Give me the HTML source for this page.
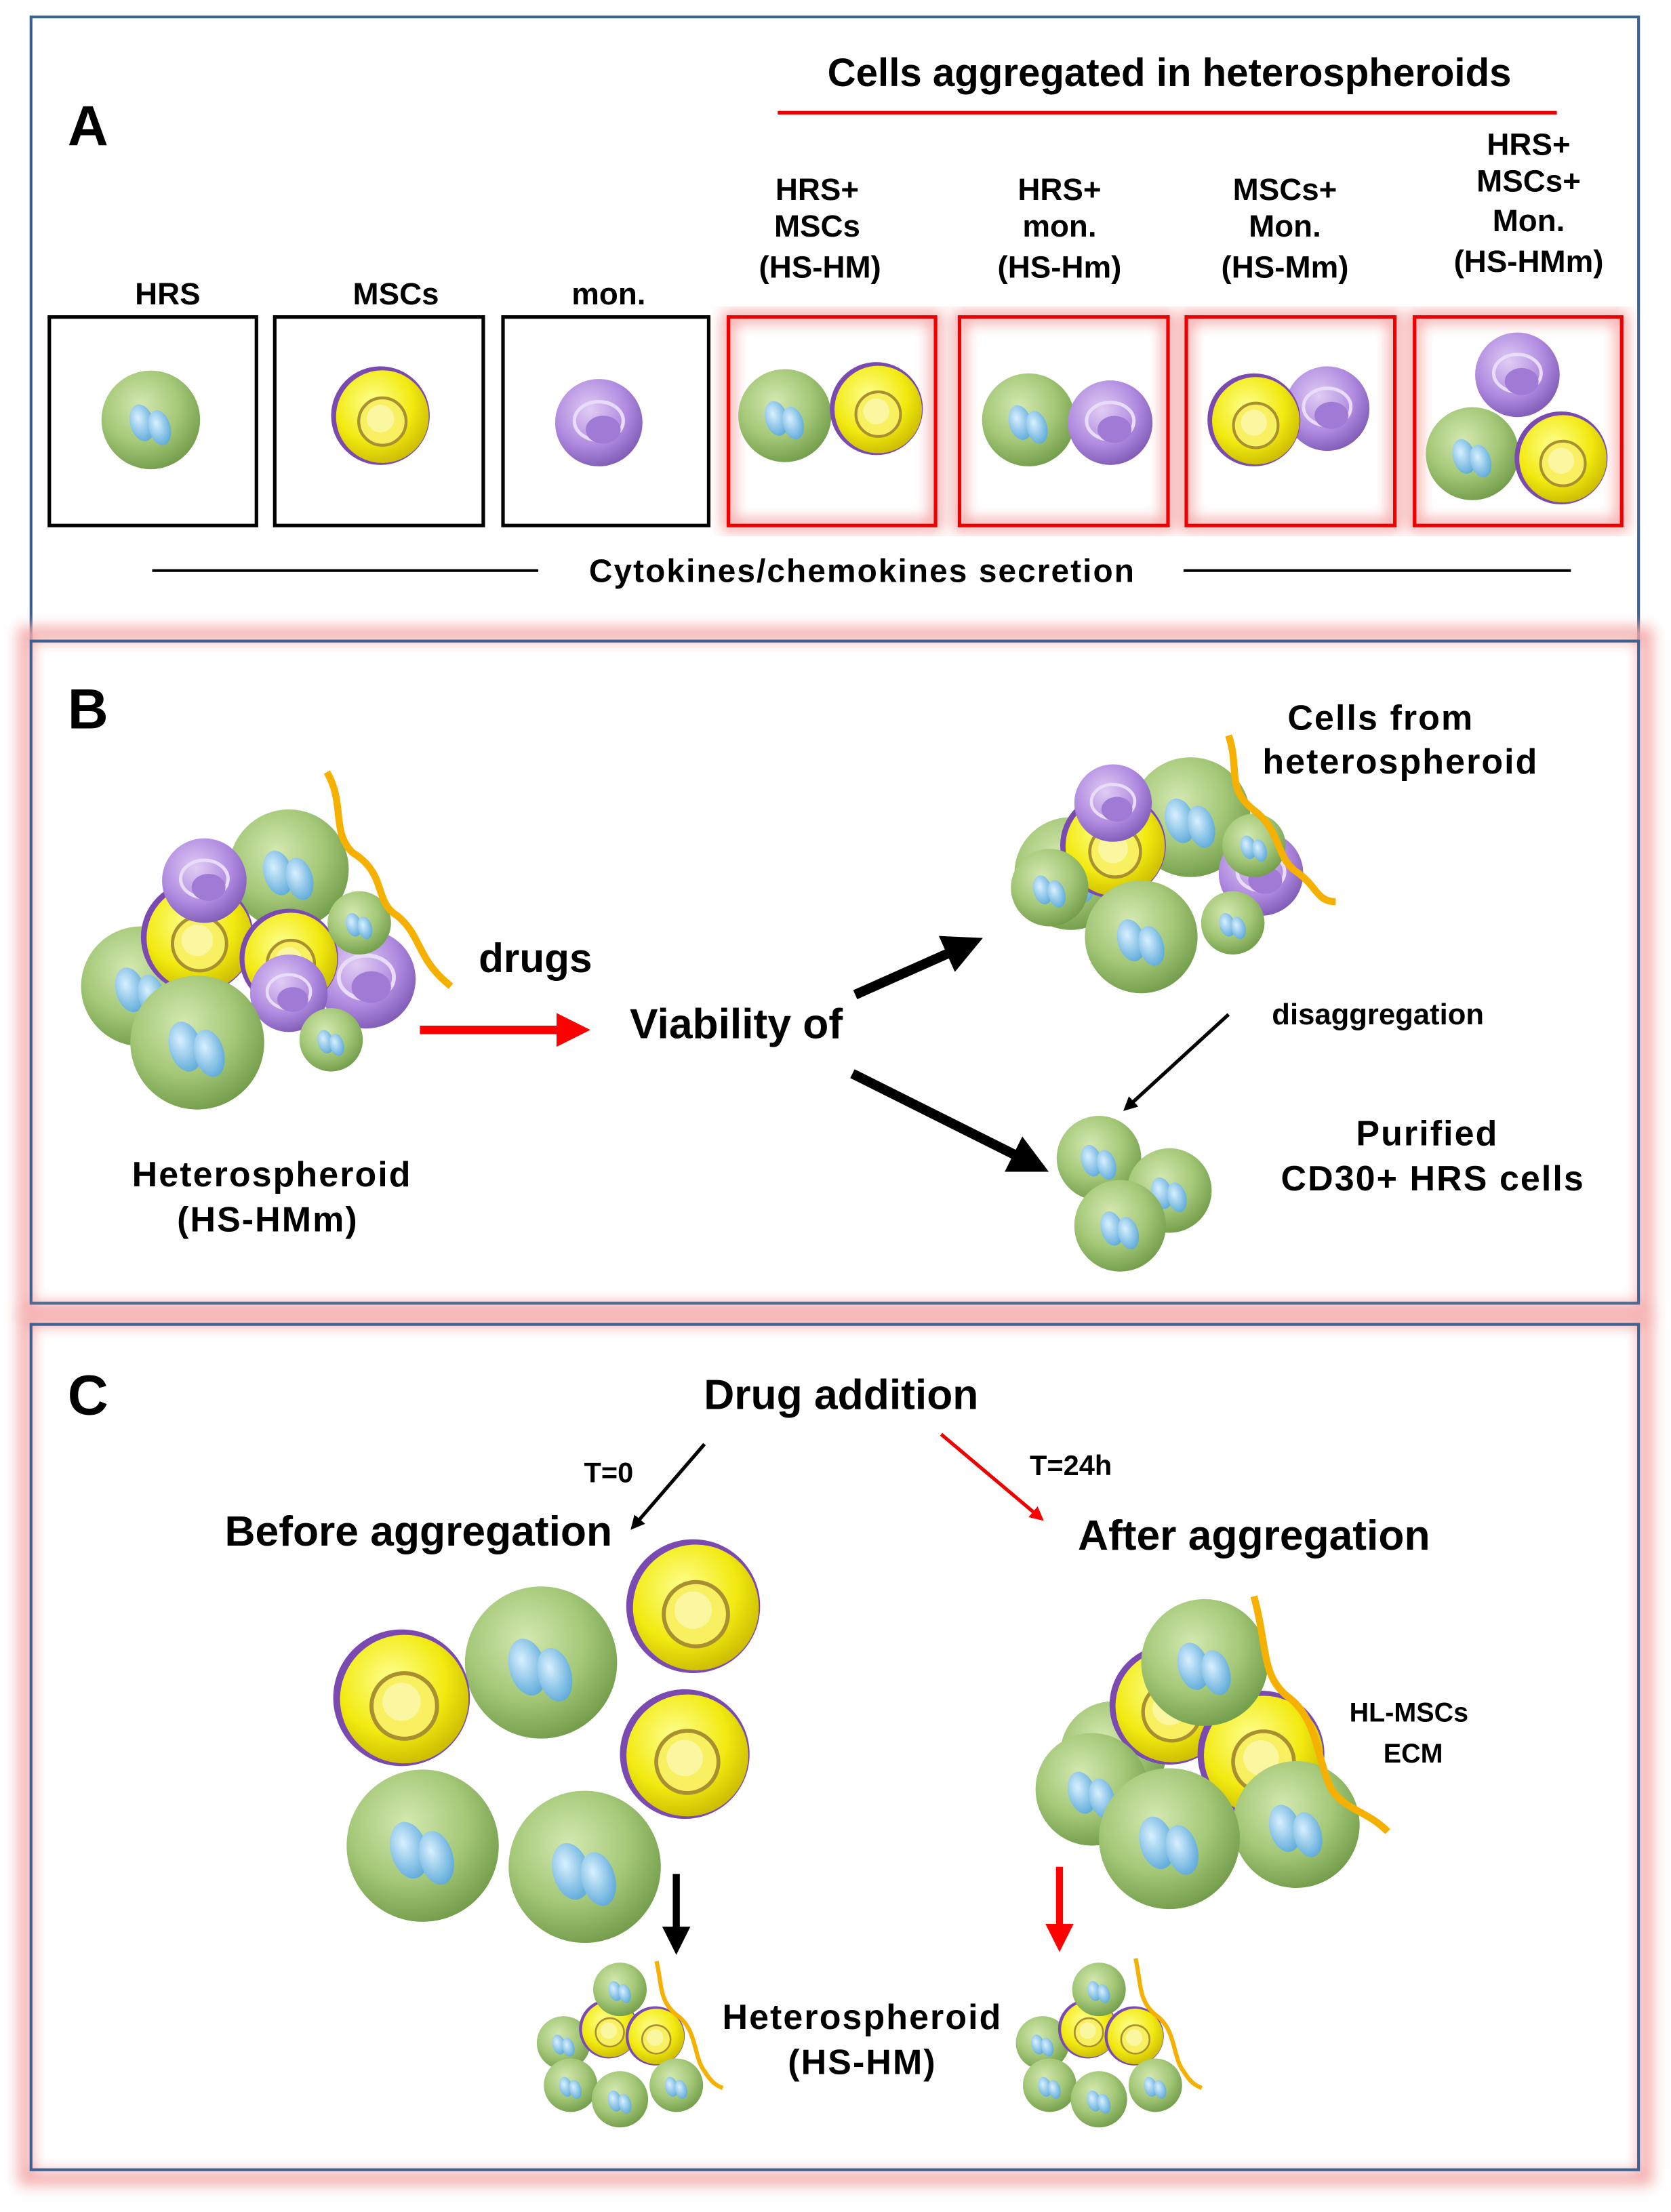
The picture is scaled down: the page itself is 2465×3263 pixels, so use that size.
<!DOCTYPE html>
<html><head><meta charset="utf-8"><style>
html,body{margin:0;padding:0;background:#fff}
svg{display:block}
text{font-family:"Liberation Sans",sans-serif;fill:#000}
</style></head><body>
<svg width="2465" height="3263" viewBox="0 0 1186 1570" xmlns="http://www.w3.org/2000/svg">
<defs>
<radialGradient id="gG" cx="40%" cy="35%" r="70%"><stop offset="0" stop-color="#d4e8b0"/><stop offset="0.55" stop-color="#a4c878"/><stop offset="1" stop-color="#6f9a48"/></radialGradient>
<radialGradient id="gY" cx="40%" cy="35%" r="70%"><stop offset="0" stop-color="#ffff90"/><stop offset="0.6" stop-color="#f2ea10"/><stop offset="1" stop-color="#c8b800"/></radialGradient>
<radialGradient id="gP" cx="40%" cy="35%" r="70%"><stop offset="0" stop-color="#e0ccf4"/><stop offset="0.6" stop-color="#b08ae0"/><stop offset="1" stop-color="#7c58b4"/></radialGradient>
<radialGradient id="gN" cx="40%" cy="35%" r="70%"><stop offset="0" stop-color="#d8f0ff"/><stop offset="1" stop-color="#5aa8d8"/></radialGradient>
<g id="cG"><circle r="50" fill="url(#gG)"/><ellipse cx="-9" cy="3" rx="12" ry="19" fill="url(#gN)" transform="rotate(-15 -9 3)"/><ellipse cx="9" cy="8" rx="11" ry="18" fill="url(#gN)" transform="rotate(-15 9 8)"/></g>
<g id="cY"><circle r="50" fill="#7a4ab0"/><circle cx="2" cy="1" r="47" fill="url(#gY)"/><circle cx="2" cy="6" r="24" fill="#f8f060" stroke="#a89030" stroke-width="3"/><circle cx="0" cy="3" r="14" fill="#fbf7a0"/></g>
<g id="cP"><circle r="50" fill="url(#gP)"/><ellipse cx="0" cy="-2" rx="28" ry="22" fill="none" stroke="#e8dcf8" stroke-width="4"/><ellipse cx="5" cy="8" rx="20" ry="16" fill="#a07ad4"/></g>
<filter id="glow" x="-5%" y="-5%" width="110%" height="110%"><feGaussianBlur stdDeviation="5"/></filter>
<marker id="ak" markerWidth="4" markerHeight="4" refX="2.5" refY="2" orient="auto"><path d="M0,0 L4,2 L0,4 z" fill="#000"/></marker>
<marker id="ar" markerWidth="4" markerHeight="4" refX="2.5" refY="2" orient="auto"><path d="M0,0 L4,2 L0,4 z" fill="#f00"/></marker>
</defs>

<!-- Panel frames -->
<rect x="22" y="12" width="1141" height="443" fill="none" stroke="#3d6190" stroke-width="2"/>
<rect x="18" y="450" width="1150" height="480" fill="none" stroke="#f4aaaa" stroke-width="10" filter="url(#glow)"/>
<rect x="22" y="455" width="1141" height="470" fill="none" stroke="#3d6190" stroke-width="2"/>
<rect x="18" y="936" width="1150" height="610" fill="none" stroke="#f4aaaa" stroke-width="10" filter="url(#glow)"/>
<rect x="22" y="940" width="1141" height="600" fill="none" stroke="#3d6190" stroke-width="2"/>

<!-- Panel A -->
<text x="48" y="103" font-size="40" font-weight="bold">A</text>
<text x="830" y="61" font-size="28" font-weight="bold" text-anchor="middle">Cells aggregated in heterospheroids</text>
<line x1="552" y1="80" x2="1105" y2="80" stroke="#e00" stroke-width="2.5"/>
<g font-size="22" text-anchor="middle" font-weight="bold">
<text x="119" y="216">HRS</text><text x="281" y="216">MSCs</text><text x="432" y="216">mon.</text>
<text x="580" y="142">HRS+</text><text x="580" y="168">MSCs</text><text x="582" y="197">(HS-HM)</text>
<text x="752" y="142">HRS+</text><text x="752" y="168">mon.</text><text x="752" y="197">(HS-Hm)</text>
<text x="912" y="142">MSCs+</text><text x="912" y="168">Mon.</text><text x="912" y="197">(HS-Mm)</text>
<text x="1085" y="110">HRS+</text><text x="1085" y="136">MSCs+</text><text x="1085" y="164">Mon.</text><text x="1085" y="193">(HS-HMm)</text>
</g>
<g fill="none" stroke="#000" stroke-width="2.5">
<rect x="35" y="225" width="147" height="148"/><rect x="195" y="225" width="148" height="148"/><rect x="357" y="225" width="146" height="148"/>
</g>
<g fill="none" stroke="#f4a0a0" stroke-width="8" filter="url(#glow)">
<rect x="517" y="225" width="147" height="148"/><rect x="681" y="225" width="148" height="148"/><rect x="842" y="225" width="148" height="148"/><rect x="1004" y="225" width="147" height="148"/>
</g>
<g fill="none" stroke="#e00" stroke-width="2.5">
<rect x="517" y="225" width="147" height="148"/><rect x="681" y="225" width="148" height="148"/><rect x="842" y="225" width="148" height="148"/><rect x="1004" y="225" width="147" height="148"/>
</g>
<use href="#cG" transform="translate(107,298) scale(0.7)"/>
<use href="#cY" transform="translate(270,295) scale(0.7)"/>
<use href="#cP" transform="translate(425,300) scale(0.62)"/>
<use href="#cG" transform="translate(557,295) scale(0.66)"/><use href="#cY" transform="translate(622,290) scale(0.66)"/>
<use href="#cG" transform="translate(730,298) scale(0.66)"/><use href="#cP" transform="translate(788,300) scale(0.6)"/>
<use href="#cP" transform="translate(942,290) scale(0.6)"/><use href="#cY" transform="translate(890,298) scale(0.66)"/>
<use href="#cP" transform="translate(1077,266) scale(0.6)"/><use href="#cG" transform="translate(1045,322) scale(0.66)"/><use href="#cY" transform="translate(1108,325) scale(0.66)"/>
<line x1="108" y1="405" x2="382" y2="405" stroke="#000" stroke-width="2"/>
<line x1="840" y1="405" x2="1115" y2="405" stroke="#000" stroke-width="2"/>
<text x="612" y="413" font-size="23" text-anchor="middle" font-weight="bold" letter-spacing="1">Cytokines/chemokines secretion</text>

<!-- Panel B -->
<text x="48" y="517" font-size="40" font-weight="bold">B</text>
<use href="#cG" transform="translate(205,617) scale(0.85)"/>
<use href="#cG" transform="translate(100,700) scale(0.85)"/>
<use href="#cY" transform="translate(140,665) scale(0.8)"/>
<use href="#cP" transform="translate(145,625) scale(0.6)"/>
<use href="#cP" transform="translate(260,695) scale(0.7)"/>
<use href="#cY" transform="translate(205,680) scale(0.7)"/>
<use href="#cP" transform="translate(205,705) scale(0.55)"/>
<use href="#cG" transform="translate(255,655) scale(0.45)"/>
<use href="#cG" transform="translate(140,740) scale(0.95)"/>
<use href="#cG" transform="translate(235,738) scale(0.45)"/>
<path d="M232,548 C245,570 235,590 250,605 C275,620 265,640 282,650 C300,665 295,680 320,700" fill="none" stroke="#f5b000" stroke-width="5"/>
<text x="380" y="690" font-size="29" font-weight="bold" text-anchor="middle">drugs</text>
<line x1="298" y1="731" x2="410" y2="731" stroke="#f00" stroke-width="6" marker-end="url(#ar)"/>
<text x="447" y="737" font-size="30" font-weight="bold">Viability of</text>
<line x1="607" y1="706" x2="688" y2="670" stroke="#000" stroke-width="7" marker-end="url(#ak)"/>
<line x1="605" y1="762" x2="735" y2="827" stroke="#000" stroke-width="7" marker-end="url(#ak)"/>
<use href="#cG" transform="translate(760,620) scale(0.8)"/>
<use href="#cG" transform="translate(845,580) scale(0.85)"/>
<use href="#cY" transform="translate(790,600) scale(0.75)"/>
<use href="#cP" transform="translate(790,570) scale(0.55)"/>
<use href="#cP" transform="translate(895,620) scale(0.6)"/>
<use href="#cG" transform="translate(890,600) scale(0.45)"/>
<use href="#cG" transform="translate(745,630) scale(0.55)"/>
<use href="#cG" transform="translate(810,665) scale(0.8)"/>
<use href="#cG" transform="translate(875,655) scale(0.45)"/>
<path d="M872,522 C880,545 870,560 890,575 C910,590 905,610 922,620 C935,630 935,640 948,640" fill="none" stroke="#f5b000" stroke-width="5"/>
<text x="980" y="518" font-size="25" font-weight="bold" text-anchor="middle" letter-spacing="1">Cells from</text>
<text x="994" y="549" font-size="25" font-weight="bold" text-anchor="middle" letter-spacing="1">heterospheroid</text>
<text x="978" y="727" font-size="21" font-weight="bold" text-anchor="middle">disaggregation</text>
<line x1="872" y1="720" x2="800" y2="786" stroke="#000" stroke-width="2.5" marker-end="url(#ak)"/>
<use href="#cG" transform="translate(780,822) scale(0.6)"/>
<use href="#cG" transform="translate(830,845) scale(0.6)"/>
<use href="#cG" transform="translate(795,870) scale(0.65)"/>
<text x="1013" y="813" font-size="25" font-weight="bold" text-anchor="middle" letter-spacing="1">Purified</text>
<text x="1017" y="845" font-size="25" font-weight="bold" text-anchor="middle" letter-spacing="1">CD30+ HRS cells</text>
<text x="193" y="842" font-size="25" font-weight="bold" text-anchor="middle" letter-spacing="1">Heterospheroid</text>
<text x="190" y="874" font-size="25" font-weight="bold" text-anchor="middle" letter-spacing="1">(HS-HMm)</text>

<!-- Panel C -->
<text x="48" y="1004" font-size="40" font-weight="bold">C</text>
<text x="597" y="1000" font-size="30" font-weight="bold" text-anchor="middle">Drug addition</text>
<line x1="500" y1="1025" x2="450" y2="1083" stroke="#000" stroke-width="2.5" marker-end="url(#ak)"/>
<line x1="668" y1="1018" x2="738" y2="1077" stroke="#e00" stroke-width="2.5" marker-end="url(#ar)"/>
<text x="432" y="1052" font-size="20" font-weight="bold" text-anchor="middle">T=0</text>
<text x="760" y="1047" font-size="20" font-weight="bold" text-anchor="middle">T=24h</text>
<text x="297" y="1097" font-size="30" font-weight="bold" text-anchor="middle">Before aggregation</text>
<text x="890" y="1100" font-size="30" font-weight="bold" text-anchor="middle">After aggregation</text>
<use href="#cY" transform="translate(492,1140) scale(0.95)"/>
<use href="#cG" transform="translate(384,1180) scale(1.08)"/>
<use href="#cY" transform="translate(285,1205) scale(0.97)"/>
<use href="#cY" transform="translate(486,1245) scale(0.92)"/>
<use href="#cG" transform="translate(300,1310) scale(1.08)"/>
<use href="#cG" transform="translate(415,1325) scale(1.08)"/>
<line x1="480" y1="1330" x2="480" y2="1380" stroke="#000" stroke-width="5" marker-end="url(#ak)"/>
<use href="#cG" transform="translate(790,1245) scale(0.75)"/>
<use href="#cY" transform="translate(830,1210) scale(0.85)"/>
<use href="#cY" transform="translate(895,1245) scale(0.9)"/>
<use href="#cG" transform="translate(855,1180) scale(0.9)"/>
<use href="#cG" transform="translate(920,1295) scale(0.9)"/>
<use href="#cG" transform="translate(775,1270) scale(0.8)"/>
<use href="#cG" transform="translate(830,1305) scale(1.0)"/>
<path d="M890,1133 C900,1170 895,1190 915,1205 C935,1220 935,1250 945,1270 C955,1285 970,1285 985,1300" fill="none" stroke="#f5b000" stroke-width="5"/>
<text x="1000" y="1222" font-size="19" font-weight="bold" text-anchor="middle">HL-MSCs</text>
<text x="1003" y="1251" font-size="19" font-weight="bold" text-anchor="middle">ECM</text>
<line x1="752" y1="1325" x2="752" y2="1378" stroke="#f00" stroke-width="5" marker-end="url(#ar)"/>
<g>
<use href="#cG" transform="translate(400,1450) scale(0.38)"/>
<use href="#cY" transform="translate(432,1440) scale(0.42)"/>
<use href="#cY" transform="translate(465,1445) scale(0.42)"/>
<use href="#cG" transform="translate(440,1412) scale(0.38)"/>
<use href="#cG" transform="translate(405,1480) scale(0.38)"/>
<use href="#cG" transform="translate(440,1490) scale(0.4)"/>
<use href="#cG" transform="translate(480,1480) scale(0.38)"/>
<path d="M466,1392 C470,1410 468,1420 480,1430 C495,1440 492,1460 500,1470 C505,1478 508,1480 513,1482" fill="none" stroke="#f5b000" stroke-width="3"/>
</g>
<g>
<use href="#cG" transform="translate(740,1450) scale(0.38)"/>
<use href="#cY" transform="translate(772,1440) scale(0.42)"/>
<use href="#cY" transform="translate(805,1445) scale(0.42)"/>
<use href="#cG" transform="translate(780,1412) scale(0.38)"/>
<use href="#cG" transform="translate(745,1480) scale(0.38)"/>
<use href="#cG" transform="translate(780,1490) scale(0.4)"/>
<use href="#cG" transform="translate(820,1480) scale(0.38)"/>
<path d="M806,1390 C810,1408 808,1420 820,1430 C835,1440 832,1460 840,1470 C845,1478 848,1480 853,1482" fill="none" stroke="#f5b000" stroke-width="3"/>
</g>
<text x="612" y="1440" font-size="25" font-weight="bold" text-anchor="middle" letter-spacing="1">Heterospheroid</text>
<text x="612" y="1472" font-size="25" font-weight="bold" text-anchor="middle" letter-spacing="1">(HS-HM)</text>
</svg>
</body></html>
